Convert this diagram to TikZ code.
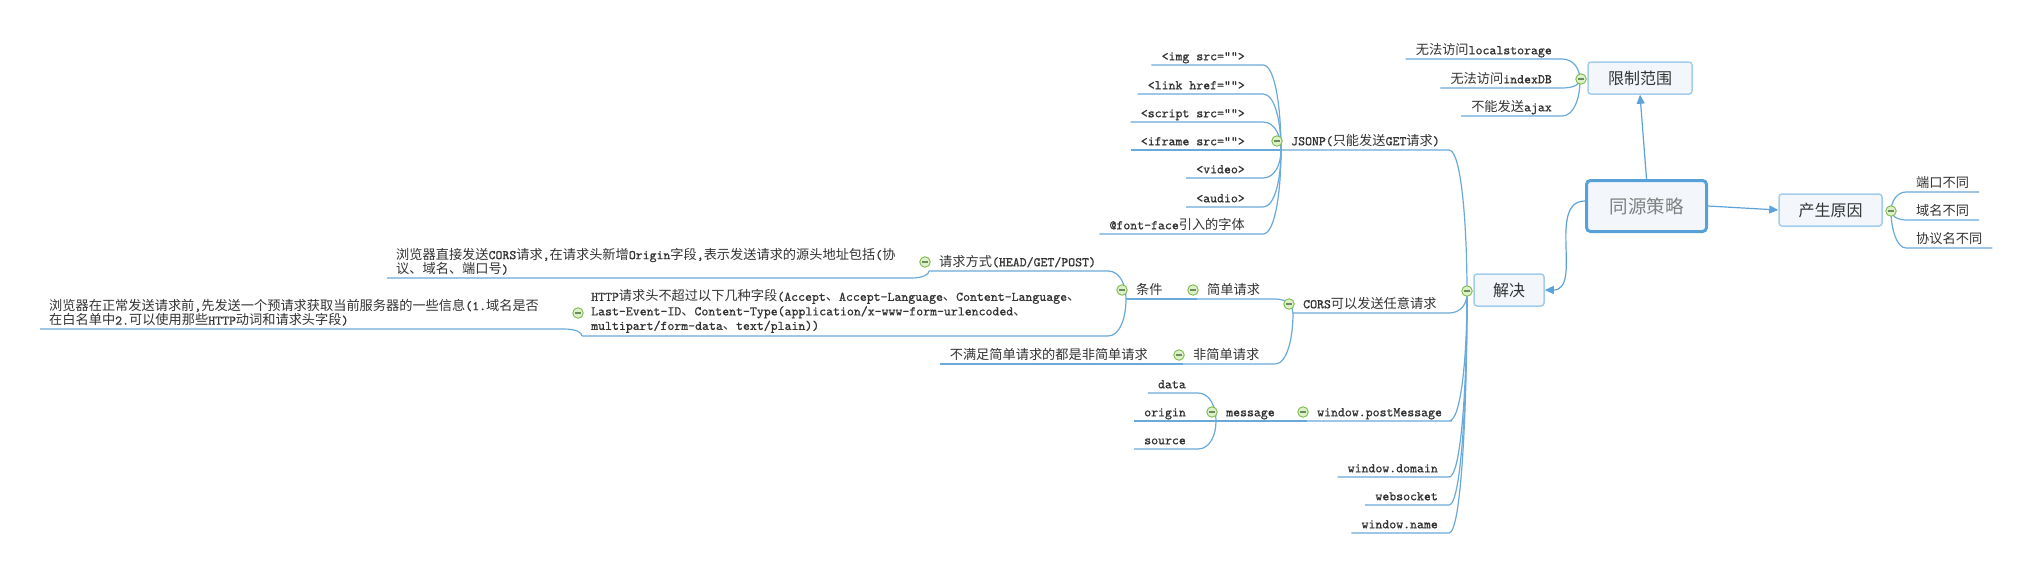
\documentclass[tikz,border=0pt]{standalone}
\usepackage{fontspec}
\newfontfamily\cjk{Noto Sans CJK SC}
\newfontfamily\lat{lmmono10-regular.otf}[FakeBold=0.8]
\usetikzlibrary{calc,arrows.meta}
\newcount\mycnt
\newXeTeXintercharclass\CJKcls
\def\setcjkrange#1#2{\mycnt=#1\relax
  \loop\XeTeXcharclass\mycnt=\CJKcls\relax
  \ifnum\mycnt<#2\relax\advance\mycnt by 1\relax\repeat}
\setcjkrange{"3000}{"303F}
\setcjkrange{"4E00}{"9FFF}
\setcjkrange{"FF00}{"FFEF}
\XeTeXinterchartoks 0 \CJKcls = {\cjk}
\XeTeXinterchartoks 4095 \CJKcls = {\cjk}
\XeTeXinterchartoks \CJKcls 0 = {\lat}
\XeTeXinterchartoks 4095 0 = {\lat}
\XeTeXinterchartokenstate=1
\newcommand\mainf{\lat\fontsize{13.2pt}{14.5pt}\selectfont}
\definecolor{ln}{HTML}{6AAADB}
\definecolor{arrc}{HTML}{5DA2DA}
\definecolor{boxf}{HTML}{F3F7FC}
\definecolor{topb}{HTML}{58A0D8}
\definecolor{subb}{HTML}{A3CDEB}
\definecolor{txt}{HTML}{333333}
\definecolor{toptxt}{HTML}{808080}
\definecolor{cfill}{HTML}{DDF0CB}
\definecolor{cdraw}{HTML}{7CBB4A}
\definecolor{cbar}{HTML}{6C8C5C}
\tikzset{
  conn/.style={draw=ln, line width=1.2pt},
  arr/.style={draw=arrc, line width=1.2pt, -{Triangle[length=9pt,width=8pt]}},
  leafnode/.style={inner xsep=10pt, inner ysep=1pt, text height=10pt, text depth=3.5pt, text=txt, font=\mainf},
  mleafnode/.style={inner xsep=9pt, inner ysep=3pt, align=left, text=txt, font=\mainf},
  topic/.style={draw=topb, line width=3pt, rounded corners=4pt, fill=boxf, minimum width=120pt, minimum height=51pt, text=toptxt, font=\cjk\fontsize{18.5pt}{20pt}\selectfont},
  subt/.style={draw=subb, line width=1.5pt, rounded corners=3pt, fill=boxf, minimum height=32pt, text=txt, font=\cjk\fontsize{16pt}{18pt}\selectfont},
  collapse/.style={circle, draw=cdraw, fill=cfill, line width=0.9pt, minimum size=10.5pt, inner sep=0pt,
    path picture={\draw[cbar, line width=1.5pt] ([xshift=-3pt]path picture bounding box.center) -- ([xshift=3pt]path picture bounding box.center);}},
  mml/.style={to path={-- ($(\tikztotarget|-\tikztostart)+(-18,0)$) .. controls ($(\tikztotarget|-\tikztostart)+(-6,0)$) and ($(\tikztotarget)!0.5!(\tikztotarget|-\tikztostart)$) .. (\tikztotarget)}},
  mmr/.style={to path={.. controls ($(\tikztostart)!0.6!(\tikztotarget|-\tikztostart)$) and ($(\tikztotarget)!0.5!(\tikztotarget|-\tikztostart)$) .. (\tikztotarget)}}
}
\begin{document}
\begin{tikzpicture}[x=1pt,y=1pt]
\useasboundingbox (0,0) rectangle (2034,-574);
\fill[white] (0,0) rectangle (2034,-574);
% main topics
\node[topic] (tysc) at (1646.5,-206) {同源策略};
\node[subt, minimum width=104pt] (xzfw) at (1640,-78) {限制范围};
\node[subt, minimum width=103pt] (csyy) at (1830.5,-210) {产生原因};
\node[subt, minimum width=70pt] (jj) at (1509,-290) {解决};
\coordinate (jxz) at (1580,-80);
\coordinate (jcs) at (1891,-211);
\coordinate (jjj) at (1467,-294);
% 限制范围
\node[leafnode, anchor=south east] (l1) at (1562,-59) {无法访问localstorage};
\node[leafnode, anchor=south east] (l2) at (1562,-88) {无法访问indexDB};
\node[leafnode, anchor=south east] (l3) at (1562,-116) {不能发送ajax};
% 产生原因
\node[leafnode, anchor=south west] (r1) at (1906,-192) {端口不同};
\node[leafnode, anchor=south west] (r2) at (1906,-220) {域名不同};
\node[leafnode, anchor=south west] (r3) at (1906,-248) {协议名不同};
% 解决 children
\node[leafnode, anchor=south west] (jsonp) at (1281,-150) {JSONP(只能发送GET请求)};
\node[leafnode, anchor=south west] (cors) at (1293,-313) {CORS可以发送任意请求};
\node[leafnode, anchor=south west] (pm) at (1307,-421) {window.postMessage};
\node[leafnode, anchor=south east] (wd) at (1448,-477) {window.domain};
\node[leafnode, anchor=south east] (ws) at (1448,-505) {websocket};
\node[leafnode, anchor=south east] (wn) at (1448,-533) {window.name};
% JSONP children
\node[leafnode, anchor=south east] (j1) at (1255,-65) {<img src="">};
\node[leafnode, anchor=south east] (j2) at (1255,-94) {<link href="">};
\node[leafnode, anchor=south east] (j3) at (1255,-122) {<script src="">};
\node[leafnode, anchor=south east] (j4) at (1255,-150) {<iframe src="">};
\node[leafnode, anchor=south east] (j5) at (1255,-178) {<video>};
\node[leafnode, anchor=south east] (j6) at (1255,-207) {<audio>};
\node[leafnode, anchor=south east] (j7) at (1255,-234) {@font-face引入的字体};
% CORS subtree
\node[leafnode, anchor=south west] (simple) at (1197,-299) {简单请求};
\node[leafnode, anchor=south west] (nonsimple) at (1183,-364) {非简单请求};
\node[leafnode, anchor=south east] (bmz) at (1158,-364) {不满足简单请求的都是非简单请求};
\node[leafnode, anchor=south west] (tj) at (1126,-299) {条件};
\node[leafnode, anchor=south west] (req) at (929,-271) {请求方式(HEAD/GET/POST)};
\node[mleafnode, anchor=south west] (http) at (582,-336) {HTTP请求头不超过以下几种字段(Accept、Accept-Language、Content-Language、\\Last-Event-ID、Content-Type(application/x-www-form-urlencoded、\\multipart/form-data、text/plain))};
\node[mleafnode, anchor=south west] (bz) at (387,-278) {浏览器直接发送CORS请求,在请求头新增Origin字段,表示发送请求的源头地址包括(协\\议、域名、端口号)};
\node[mleafnode, anchor=south west] (zc) at (40,-329) {浏览器在正常发送请求前,先发送一个预请求获取当前服务器的一些信息(1.域名是否\\在白名单中2.可以使用那些HTTP动词和请求头字段)};
% message subtree
\node[leafnode, anchor=south west] (msg) at (1216,-421) {message};
\node[leafnode, anchor=south east] (d1) at (1196,-393) {data};
\node[leafnode, anchor=south east] (d2) at (1196,-421) {origin};
\node[leafnode, anchor=south east] (d3) at (1196,-449) {source};
% arrows between topics
\draw[arr] (tysc.north) -- (xzfw.south);
\draw[arr] (tysc.east) -- (csyy.west);
\draw[arr] ($(tysc.west)+(0,5)$) to[out=180,in=0] (jj.east);
% connectors
\foreach \n in {l1,l2,l3} {\draw[conn] (\n.south west) -- (\n.south east) to[mml] (jxz);}
\foreach \n in {r1,r2,r3} {\draw[conn] (\n.south east) -- (\n.south west) to[mmr] (jcs);}
\foreach \n in {jsonp,cors,pm,wd,ws,wn} {\draw[conn] (\n.south west) -- (\n.south east) to[mml] (jjj);}
\foreach \n in {j1,j2,j3,j4,j5,j6,j7} {\draw[conn] (\n.south west) -- (\n.south east) to[mml] (jsonp.south west);}
\draw[conn] (simple.south west) -- (simple.south east) to[mml] (cors.south west);
\draw[conn] (nonsimple.south west) -- (nonsimple.south east) to[mml] (cors.south west);
\draw[conn] (bmz.south west) -- (bmz.south east) to[mml] (nonsimple.south west);
\draw[conn] (tj.south west) -- (tj.south east) to[mml] (simple.south west);
\draw[conn] (req.south west) -- (req.south east) to[mml] (tj.south west);
\draw[conn] (http.south west) -- (http.south east) to[mml] (tj.south west);
\draw[conn] (bz.south west) -- (bz.south east) to[mml] (req.south west);
\draw[conn] (zc.south west) -- (zc.south east) to[mml] (http.south west);
\draw[conn] (msg.south west) -- (msg.south east) to[mml] (pm.south west);
\foreach \n in {d1,d2,d3} {\draw[conn] (\n.south west) -- (\n.south east) to[mml] (msg.south west);}
% collapse markers
\node[collapse] (cxz) at (1581,-79) {};
\node[collapse] (ccs) at (1891,-211) {};
\node[collapse] (cjj) at (1467,-291) {};
\foreach \n in {jsonp,cors,pm,simple,nonsimple,tj,req,msg} {\node[collapse] (c\n) at ($(\n.south west)+(-4,9)$) {};}
\node[collapse] (chttp) at ($(http.south west)+(-4,23)$) {};
\end{tikzpicture}
\end{document}
